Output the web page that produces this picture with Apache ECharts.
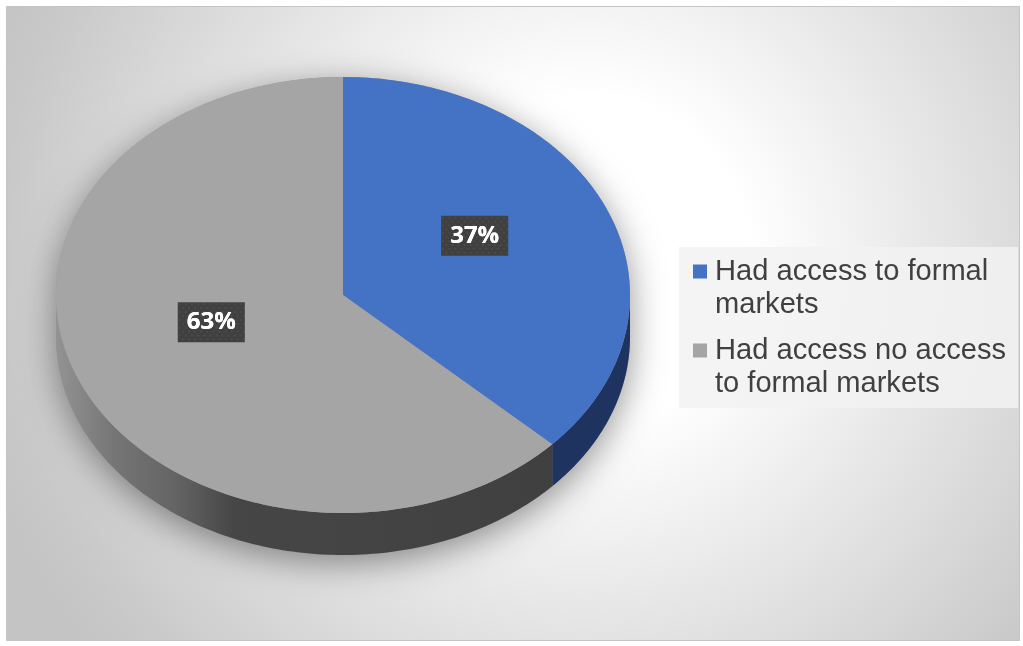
<!DOCTYPE html>
<html>
<head>
<meta charset="utf-8">
<script src="https://cdn.jsdelivr.net/npm/echarts@6/dist/echarts.min.js"></script>
<style>
  html, body { margin: 0; padding: 0; background: #ffffff; }
  #chart { width: 1023px; height: 646px; }
</style>
</head>
<body>
<div id="chart"></div>
<script>
// Survey shares (percent) and their legend wording
const categories = ['Had access to formal markets', 'Had access no access to formal markets'];
const legendLines = [['Had access to formal', 'markets'], ['Had access no access', 'to formal markets']];
const shares = [37, 63];
const topColors = ['#4472C4', '#A5A5A5'];

// Tilted-pie geometry: ellipse centre, radii and rim depth
const CX = 343, CY = 295, RX = 287, RY = 218, DEPTH = 42;

const total = shares.reduce((a, b) => a + b, 0);
const startAngles = [];
let running = 0;
shares.forEach(v => { startAngles.push(running / total * 360); running += v; });

// angle measured clockwise from 12 o'clock
function ellipsePoint(deg, dy) {
  const r = deg * Math.PI / 180;
  return [CX + RX * Math.sin(r), CY - RY * Math.cos(r) + (dy || 0)];
}
function arcPoints(a0, a1, dy) {
  const pts = [];
  const n = Math.max(2, Math.ceil(Math.abs(a1 - a0)));
  for (let i = 0; i <= n; i++) pts.push(ellipsePoint(a0 + (a1 - a0) * i / n, dy));
  return pts;
}

// faint dotted texture for the label boxes
const dotTile = document.createElement('canvas');
dotTile.width = 66; dotTile.height = 41;
(function () {
  const g = dotTile.getContext('2d');
  g.fillStyle = 'rgba(255,255,255,0.06)';
  for (let y = 1, row = 0; y < 41; y += 4, row++) {
    for (let x = (row % 2) * 3 + 1; x < 66; x += 6) g.fillRect(x, y, 2, 2);
  }
})();

const sideFills = [
  '#1E335F',
  {
    type: 'linear', x: 0, y: 0, x2: 1, y2: 0,
    colorStops: [
      { offset: 0, color: '#939393' },
      { offset: 0.12, color: '#757575' },
      { offset: 0.24, color: '#646464' },
      { offset: 0.36, color: '#464646' },
      { offset: 1, color: '#404040' }
    ]
  }
];

function renderSlice(params, api) {
  const k = params.seriesIndex;
  const value = api.value(0);
  const a0 = startAngles[k];
  const a1 = a0 + value / total * 360;
  const children = [];

  if (k === 0) {
    // soft drop shadow under the whole disc
    const outline = arcPoints(-90, 90, 0).concat(arcPoints(90, 270, DEPTH));
    children.push({
      type: 'polygon', z2: 0,
      shape: { points: outline },
      style: {
        fill: '#9a9a9a',
        shadowBlur: 34, shadowColor: 'rgba(0,0,0,0.42)',
        shadowOffsetX: 0, shadowOffsetY: 8
      }
    });
  }

  // visible front rim (between 3 and 9 o'clock)
  const s0 = Math.max(a0, 90), s1 = Math.min(a1, 270);
  if (s1 > s0) {
    const rim = arcPoints(s0, s1, 0).concat(arcPoints(s1, s0, DEPTH));
    children.push({
      type: 'polygon', z2: 1,
      shape: { points: rim },
      style: { fill: sideFills[k] }
    });
  }

  // top face
  const face = [[CX, CY]].concat(arcPoints(a0, a1, 0));
  children.push({
    type: 'polygon', z2: 2,
    shape: { points: face },
    style: { fill: topColors[k] }
  });

  // data label: shadowed dark box, dotted overlay on top
  const mid = (a0 + a1) / 2;
  const mr = mid * Math.PI / 180;
  const labelStyle = {
    text: Math.round(value / total * 100) + '%',
    x: CX + 0.5 * RX * Math.sin(mr),
    y: CY - 0.5 * RY * Math.cos(mr) - 16,
    align: 'center', verticalAlign: 'middle',
    fill: '#ffffff',
    fontFamily: '"Open Sans", sans-serif',
    fontWeight: 'bold', fontSize: 24,
    padding: [8, 9, 8, 9]
  };
  children.push({
    type: 'text', z2: 5,
    style: Object.assign({}, labelStyle, {
      backgroundColor: '#404040',
      boxShadowBlur: 6, boxShadowColor: 'rgba(0,0,0,0.55)',
      boxShadowOffsetX: 3, boxShadowOffsetY: 3
    })
  });
  children.push({
    type: 'text', z2: 6,
    style: Object.assign({}, labelStyle, { backgroundColor: { image: dotTile } })
  });

  return { type: 'group', children: children };
}

const chart = echarts.init(document.getElementById('chart'), null, { renderer: 'canvas' });

const series = categories.map((name, k) => ({
  type: 'custom',
  name: name,
  coordinateSystem: 'none',
  silent: true,
  itemStyle: { color: topColors[k] },
  data: [shares[k]],
  renderItem: renderSlice
}));

chart.setOption({
  animation: false,
  color: topColors,
  graphic: [
    {
      type: 'rect', z: -10, silent: true,
      shape: { x: 6.5, y: 6.5, width: 1013, height: 634 },
      style: {
        fill: {
          type: 'radial', x: 0.57, y: 0.4, r: 1.0,
          colorStops: [
            { offset: 0, color: '#ffffff' },
            { offset: 0.26, color: '#ffffff' },
            { offset: 0.92, color: '#c8c8c8' },
            { offset: 1, color: '#c4c4c4' }
          ]
        },
        stroke: '#c4c4c4', lineWidth: 1
      }
    },
    {
      type: 'rect', z: -5, silent: true,
      shape: { x: 679, y: 247, width: 339, height: 161 },
      style: { fill: 'rgba(242,242,242,0.85)' }
    }
  ],
  legend: {
    data: categories,
    orient: 'vertical',
    left: 693, top: 222,
    padding: 0,
    itemWidth: 14, itemHeight: 14,
    itemGap: -20,
    icon: 'rect',
    selectedMode: false,
    formatter: name => '\n' + legendLines[categories.indexOf(name)].join('\n'),
    textStyle: {
      fontFamily: '"Liberation Sans", Arial, sans-serif',
      fontSize: 29.1, lineHeight: 33,
      color: '#404040',
      padding: [0, 0, 0, 3]
    }
  },
  series: series
});
</script>
</body>
</html>
